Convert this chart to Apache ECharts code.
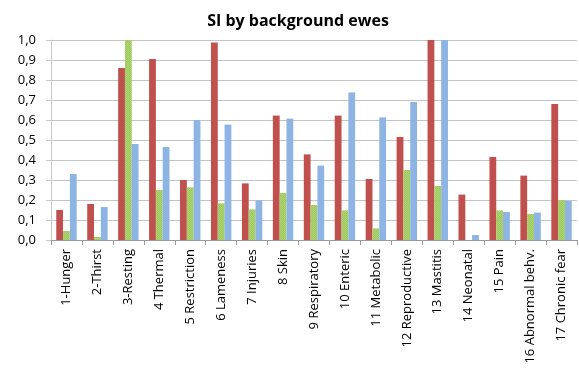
<!DOCTYPE html>
<html>
<head>
<meta charset="utf-8">
<script src="https://cdn.jsdelivr.net/npm/echarts@6/dist/echarts.min.js"></script>
<style>
  html, body { margin: 0; padding: 0; background: #fff; }
  #chart { width: 579px; height: 382px; }
</style>
</head>
<body>
<div id="chart"></div>
<script>
// Welfare issue categories on the x axis
const categories = [
  '1-Hunger', '2-Thirst', '3-Resting', '4 Thermal', '5 Restriction',
  '6 Lameness', '7 Injuries', '8 Skin', '9 Respiratory', '10 Enteric',
  '11 Metabolic', '12 Reproductive', '13 Mastitis', '14 Neonatal',
  '15 Pain', '16 Abnormal behv.', '17 Chronic fear'
];

// Three background groups of SI values
const seriesRed = [0.15, 0.18, 0.86, 0.905, 0.30, 0.987, 0.283, 0.622, 0.428, 0.622,
                   0.305, 0.515, 1.0, 0.227, 0.415, 0.322, 0.68];
const seriesGreen = [0.045, 0.015, 1.0, 0.25, 0.263, 0.183, 0.153, 0.235, 0.175, 0.148,
                     0.058, 0.35, 0.27, 0, 0.148, 0.13, 0.20];
const seriesBlue = [0.33, 0.165, 0.48, 0.465, 0.60, 0.577, 0.198, 0.607, 0.372, 0.738,
                    0.613, 0.69, 1.0, 0.025, 0.14, 0.137, 0.195];

const FONT = '"Open Sans", "Liberation Sans", sans-serif';

const chart = echarts.init(document.getElementById('chart'), null, { renderer: 'canvas' });

function barSeries(name, data, color, decal) {
  return {
    name: name,
    type: 'bar',
    data: data,
    barGap: '0%',
    barCategoryGap: '34%',
    itemStyle: { color: color, decal: decal },
    animation: false
  };
}

chart.setOption({
  animation: false,
  backgroundColor: '#ffffff',
  title: {
    text: 'SI by background ewes',
    left: 293,
    top: 8,
    textAlign: 'center',
    textStyle: { fontFamily: FONT, fontSize: 16, fontWeight: 'bold', color: '#000' }
  },
  grid: { left: 51, right: 2, top: 40, bottom: 142, containLabel: false },
  xAxis: {
    type: 'category',
    data: categories,
    axisLine: { show: true, lineStyle: { color: '#9a9a9a', width: 1 } },
    axisTick: { show: true, length: 5, lineStyle: { color: '#9a9a9a' } },
    axisLabel: {
      rotate: 90,
      interval: 0,
      margin: 9,
      fontFamily: FONT,
      fontSize: 13,
      color: '#000'
    }
  },
  yAxis: {
    type: 'value',
    min: 0,
    max: 1,
    interval: 0.1,
    axisLine: { show: true, lineStyle: { color: '#c8c8c8' } },
    axisTick: { show: true, length: 5, lineStyle: { color: '#c8c8c8' } },
    splitLine: { show: true, lineStyle: { color: '#c4c4c4', width: 1 } },
    axisLabel: {
      margin: 15,
      fontFamily: FONT,
      fontSize: 13,
      color: '#000',
      formatter: v => v.toFixed(1).replace('.', ',')
    }
  },
  series: [
    barSeries('Red', seriesRed, '#C0504D'),
    barSeries('Green', seriesGreen, '#AFD572', {
      color: 'rgba(140,190,80,0.55)',
      symbol: 'rect',
      symbolSize: 1,
      dashArrayX: [[1, 1], [0, 1, 1, 0]],
      dashArrayY: [1, 0],
      rotation: 0
    }),
    barSeries('Blue', seriesBlue, '#8DB4E2')
  ]
});
</script>
</body>
</html>
